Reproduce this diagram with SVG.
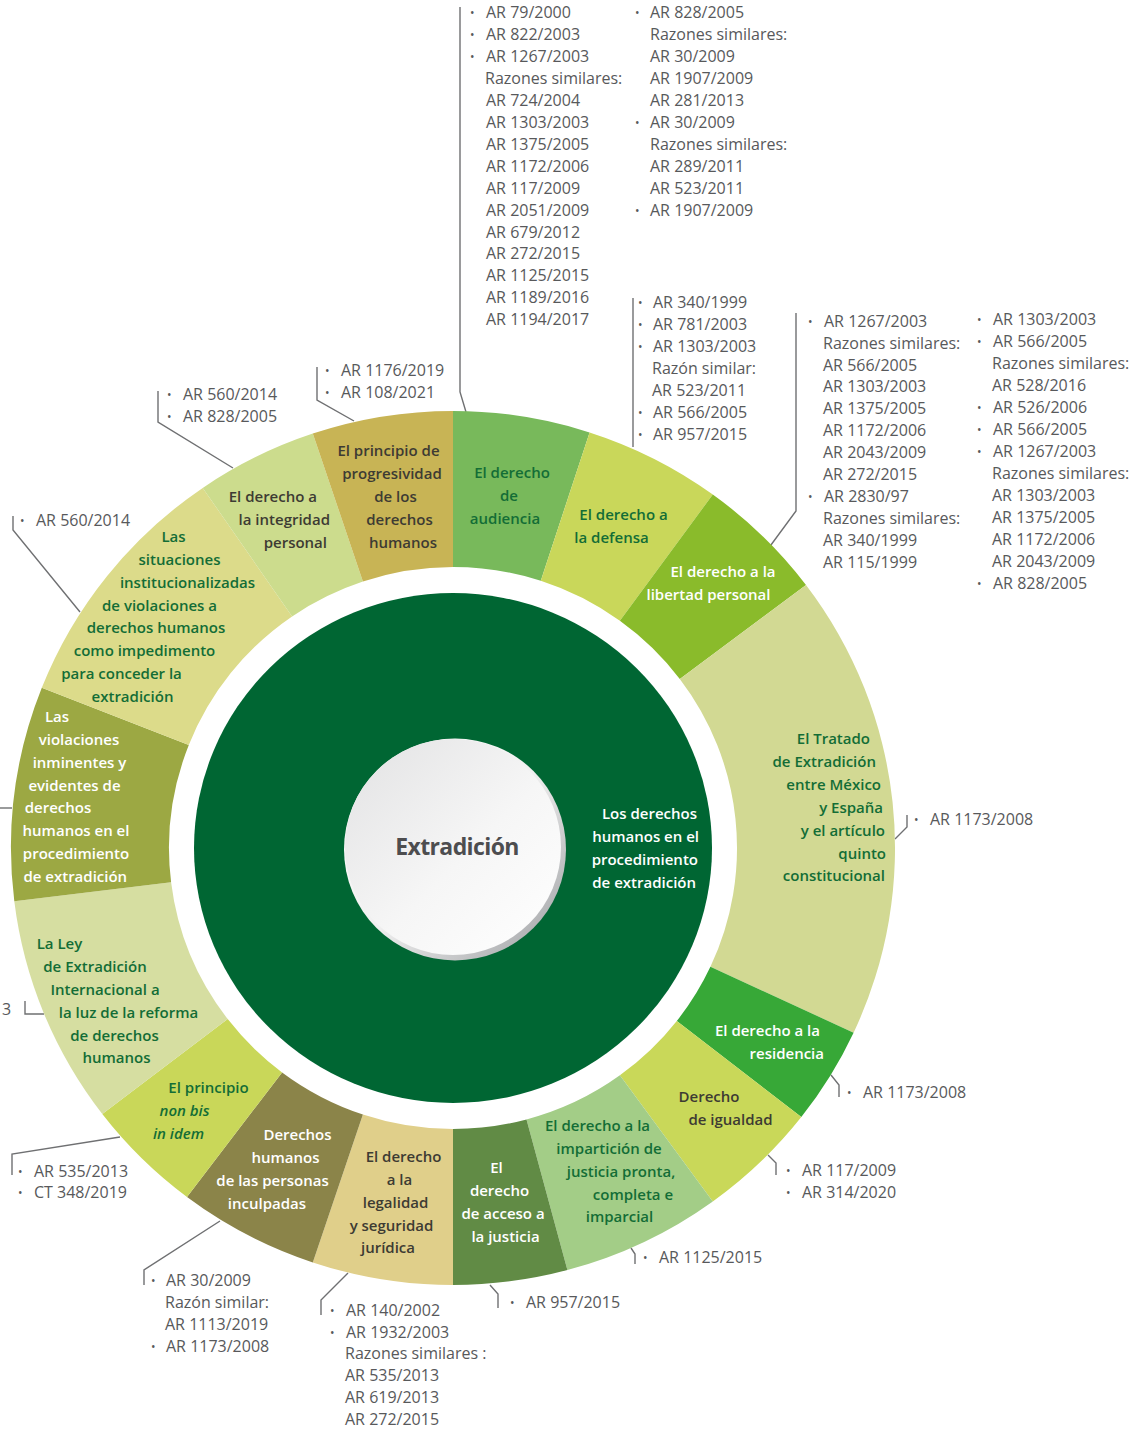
<svg xmlns="http://www.w3.org/2000/svg" width="1139" height="1429" viewBox="0 0 1139 1429">
<style>
.ref{font-family:"Open Sans","Liberation Sans",sans-serif;font-size:16px;fill:#58595b}
.bl{font-family:"Open Sans","Liberation Sans",sans-serif;font-size:12px;fill:#58595b}
.lb{font-family:"Open Sans","Liberation Sans",sans-serif;font-size:15px;font-weight:600}
.g{fill:#136d36}
.w{fill:#ffffff}
.k{fill:#3d3b33}
.m{text-anchor:middle}
.e{text-anchor:end}
.it{font-style:italic}
.ln{fill:none;stroke:#6f7072;stroke-width:1.4}
</style>
<defs>
<linearGradient id="wg" x1="0" y1="0" x2="1" y2="1">
<stop offset="0" stop-color="#e2e2e3"/>
<stop offset="0.55" stop-color="#f6f6f6"/>
<stop offset="1" stop-color="#ffffff"/>
</linearGradient>
<linearGradient id="rim" x1="0" y1="0" x2="1" y2="1">
<stop offset="0" stop-color="#ffffff"/>
<stop offset="0.5" stop-color="#f0f0f0"/>
<stop offset="1" stop-color="#9a9c9f"/>
</linearGradient>
</defs>
<rect width="1139" height="1429" fill="#ffffff"/>

<g id="connectors">
<polyline class="ln" points="460,7 460,392 466,412"/>
<polyline class="ln" points="633,298 633,447"/>
<polyline class="ln" points="796,313 796,511 768,549"/>
<polyline class="ln" points="907,815 907,827 895,839"/>
<polyline class="ln" points="839,1097 839,1085 831,1075"/>
<polyline class="ln" points="776,1175 776,1163 768,1155"/>
<polyline class="ln" points="635,1264 635,1254 631,1248"/>
<polyline class="ln" points="498,1308 498,1294 490,1285"/>
<polyline class="ln" points="321,1315 321,1300 348,1273"/>
<polyline class="ln" points="144,1285 144,1270 220,1221"/>
<polyline class="ln" points="12,1175 12,1154 120,1137"/>
<polyline class="ln" points="25,1001 25,1014 44,1014"/>
<polyline class="ln" points="0,808 12,808"/>
<polyline class="ln" points="13,516 13,530 80,612"/>
<polyline class="ln" points="158,391 158,422 233,468"/>
<polyline class="ln" points="317,367 317,400 354,421"/>
</g>

<g id="seg-audiencia">
<path d="M453,411 A442,437 0 0 1 589.6,432.4 L540.8,580.7 A284,281 0 0 0 453,567 Z" fill="#78b95b"/>
<text class="lb g m"><tspan x="512" y="478">El derecho</tspan><tspan x="509" y="501">de</tspan><tspan x="505" y="524">audiencia</tspan></text>
</g>
<g id="seg-defensa">
<path d="M589.6,432.4 A442,437 0 0 1 712.8,494.5 L619.9,620.7 A284,281 0 0 0 540.8,580.7 Z" fill="#c9d75a"/>
<text class="lb g m"><tspan x="623.5" y="520">El derecho a</tspan><tspan x="611.5" y="543">la defensa</tspan></text>
</g>
<g id="seg-libertad">
<path d="M712.8,494.5 A442,437 0 0 1 806,585 L679.8,678.9 A284,281 0 0 0 619.9,620.7 Z" fill="#8abb2b"/>
<text class="lb w m"><tspan x="723" y="577">El derecho a la</tspan><tspan x="708.5" y="600">libertad personal</tspan></text>
</g>
<g id="seg-tratado">
<path d="M806,585 A442,437 0 0 1 853.6,1032.7 L710.4,966.8 A284,281 0 0 0 679.8,678.9 Z" fill="#d2d993"/>
<text class="lb g e"><tspan x="870" y="744">El Tratado</tspan><tspan x="876" y="767">de Extradición</tspan><tspan x="881" y="790">entre México</tspan><tspan x="883" y="813">y España</tspan><tspan x="885" y="836">y el artículo</tspan><tspan x="886" y="859">quinto</tspan><tspan x="885" y="881">constitucional</tspan></text>
</g>
<g id="seg-residencia">
<path d="M853.6,1032.7 A442,437 0 0 1 801.3,1117.1 L676.8,1021 A284,281 0 0 0 710.4,966.8 Z" fill="#37a837"/>
<text class="lb w e"><tspan x="820" y="1036">El derecho a la</tspan><tspan x="824" y="1059">residencia</tspan></text>
</g>
<g id="seg-igualdad">
<path d="M801.3,1117.1 A442,437 0 0 1 712.8,1201.5 L619.9,1075.3 A284,281 0 0 0 676.8,1021 Z" fill="#c9d859"/>
<text class="lb k m"><tspan x="709" y="1102">Derecho</tspan><tspan x="730.5" y="1125">de igualdad</tspan></text>
</g>
<g id="seg-imparticion">
<path d="M712.8,1201.5 A442,437 0 0 1 567.4,1270.1 L526.5,1119.4 A284,281 0 0 0 619.9,1075.3 Z" fill="#a3cd87"/>
<text class="lb g m"><tspan x="597.5" y="1131">El derecho a la</tspan><tspan x="609" y="1154">impartición de</tspan><tspan x="621" y="1177">justicia pronta,</tspan><tspan x="633" y="1200">completa e</tspan><tspan x="619.5" y="1222">imparcial</tspan></text>
</g>
<g id="seg-acceso">
<path d="M567.4,1270.1 A442,437 0 0 1 453,1285 L453,1129 A284,281 0 0 0 526.5,1119.4 Z" fill="#618b45"/>
<text class="lb w m"><tspan x="496.5" y="1173">El</tspan><tspan x="499.5" y="1196">derecho</tspan><tspan x="503" y="1219">de acceso a</tspan><tspan x="505.5" y="1242">la justicia</tspan></text>
</g>
<g id="seg-legalidad">
<path d="M453,1285 A442,437 0 0 1 312.8,1262.4 L362.9,1114.5 A284,281 0 0 0 453,1129 Z" fill="#e0cf8a"/>
<text class="lb k m"><tspan x="403.5" y="1162">El derecho</tspan><tspan x="399.5" y="1185">a la</tspan><tspan x="395.5" y="1208">legalidad</tspan><tspan x="391.5" y="1231">y seguridad</tspan><tspan x="388" y="1253">jurídica</tspan></text>
</g>
<g id="seg-inculpadas">
<path d="M312.8,1262.4 A442,437 0 0 1 187,1197 L282.1,1072.4 A284,281 0 0 0 362.9,1114.5 Z" fill="#8b8449"/>
<text class="lb w m"><tspan x="297.5" y="1140">Derechos</tspan><tspan x="285.5" y="1163">humanos</tspan><tspan x="272.5" y="1186">de las personas</tspan><tspan x="267" y="1209">inculpadas</tspan></text>
</g>
<g id="seg-nonbis">
<path d="M187,1197 A442,437 0 0 1 102.3,1114 L227.7,1019.1 A284,281 0 0 0 282.1,1072.4 Z" fill="#c9d759"/>
<text class="lb g m"><tspan x="208.5" y="1093">El principio</tspan><tspan class="it" x="184.5" y="1116">non bis</tspan><tspan class="it" x="178.5" y="1139">in idem</tspan></text>
</g>
<g id="seg-ley">
<path d="M102.3,1114 A442,437 0 0 1 14.3,901.3 L171.1,882.3 A284,281 0 0 0 227.7,1019.1 Z" fill="#d6dea1"/>
<text class="lb g m"><tspan x="59.5" y="949">La Ley</tspan><tspan x="95" y="972">de Extradición</tspan><tspan x="105" y="995">Internacional a</tspan><tspan x="128.5" y="1018">la luz de la reforma</tspan><tspan x="114.5" y="1041">de derechos</tspan><tspan x="116.5" y="1063">humanos</tspan></text>
</g>
<g id="seg-violaciones">
<path d="M14.3,901.3 A442,437 0 0 1 41.8,687.8 L188.8,745 A284,281 0 0 0 171.1,882.3 Z" fill="#9ca843"/>
<text class="lb w m"><tspan x="57" y="722">Las</tspan><tspan x="79" y="745">violaciones</tspan><tspan x="79.5" y="768">inminentes y</tspan><tspan x="74.5" y="791">evidentes de</tspan><tspan x="58" y="813">derechos</tspan><tspan x="76" y="836">humanos en el</tspan><tspan x="76" y="859">procedimiento</tspan><tspan x="75.3" y="882">de extradición</tspan></text>
</g>
<g id="seg-situaciones">
<path d="M41.8,687.8 A442,437 0 0 1 202.7,487.9 L292.1,616.4 A284,281 0 0 0 188.8,745 Z" fill="#dcdb8a"/>
<text class="lb g m"><tspan x="173.5" y="542">Las</tspan><tspan x="179.5" y="565">situaciones</tspan><tspan x="187.5" y="588">institucionalizadas</tspan><tspan x="159.5" y="611">de violaciones a</tspan><tspan x="156" y="633">derechos humanos</tspan><tspan x="144.5" y="656">como impedimento</tspan><tspan x="121.5" y="679">para conceder la</tspan><tspan x="132.5" y="702">extradición</tspan></text>
</g>
<g id="seg-integridad">
<path d="M202.7,487.9 A442,437 0 0 1 312.8,433.6 L362.9,581.5 A284,281 0 0 0 292.1,616.4 Z" fill="#ccdc8d"/>
<text class="lb k e"><tspan x="317" y="502">El derecho a</tspan><tspan x="330" y="525">la integridad</tspan><tspan x="327" y="548">personal</tspan></text>
</g>
<g id="seg-progresividad">
<path d="M312.8,433.6 A442,437 0 0 1 453,411 L453,567 A284,281 0 0 0 362.9,581.5 Z" fill="#c8b455"/>
<text class="lb k m"><tspan x="388.5" y="456">El principio de</tspan><tspan x="392" y="479">progresividad</tspan><tspan x="395.5" y="502">de los</tspan><tspan x="399.5" y="525">derechos</tspan><tspan x="403" y="548">humanos</tspan></text>
</g>

<g id="node-center">
<ellipse cx="453" cy="848" rx="259" ry="255" fill="#006633"/>
<text class="lb w e"><tspan x="697" y="819">Los derechos</tspan><tspan x="699" y="842">humanos en el</tspan><tspan x="698" y="865">procedimiento</tspan><tspan x="696" y="888">de extradición</tspan></text>
</g>
<g id="node-extradicion">
<circle cx="455" cy="849.5" r="111" fill="url(#rim)"/>
<circle cx="453" cy="847" r="108" fill="url(#wg)"/>
<text x="457" y="855" text-anchor="middle" font-family="Open Sans, Liberation Sans, sans-serif" font-size="23" font-weight="700" letter-spacing="-0.6" fill="#4d4d4f">Extradición</text>
</g>

<g id="refs-audiencia">
<text class="bl" x="470" y="17">•</text><text class="bl" x="470" y="39">•</text><text class="bl" x="470" y="61">•</text>
<text class="ref"><tspan x="486" y="18">AR 79/2000</tspan><tspan x="486" y="40">AR 822/2003</tspan><tspan x="486" y="62">AR 1267/2003</tspan><tspan x="485" y="84">Razones similares:</tspan><tspan x="486" y="106">AR 724/2004</tspan><tspan x="486" y="128">AR 1303/2003</tspan><tspan x="486" y="150">AR 1375/2005</tspan><tspan x="486" y="172">AR 1172/2006</tspan><tspan x="486" y="194">AR 117/2009</tspan><tspan x="486" y="216">AR 2051/2009</tspan><tspan x="486" y="238">AR 679/2012</tspan><tspan x="486" y="259">AR 272/2015</tspan><tspan x="486" y="281">AR 1125/2015</tspan><tspan x="486" y="303">AR 1189/2016</tspan><tspan x="486" y="325">AR 1194/2017</tspan></text>
<text class="bl" x="635" y="17">•</text><text class="bl" x="635" y="127">•</text><text class="bl" x="635" y="215">•</text>
<text class="ref"><tspan x="650" y="18">AR 828/2005</tspan><tspan x="650" y="40">Razones similares:</tspan><tspan x="650" y="62">AR 30/2009</tspan><tspan x="650" y="84">AR 1907/2009</tspan><tspan x="650" y="106">AR 281/2013</tspan><tspan x="650" y="128">AR 30/2009</tspan><tspan x="650" y="150">Razones similares:</tspan><tspan x="650" y="172">AR 289/2011</tspan><tspan x="650" y="194">AR 523/2011</tspan><tspan x="650" y="216">AR 1907/2009</tspan></text>
</g>
<g id="refs-defensa">
<text class="bl" x="638" y="307">•</text><text class="bl" x="638" y="329">•</text><text class="bl" x="638" y="351">•</text><text class="bl" x="638" y="417">•</text><text class="bl" x="638" y="439">•</text>
<text class="ref"><tspan x="653" y="308">AR 340/1999</tspan><tspan x="653" y="330">AR 781/2003</tspan><tspan x="653" y="352">AR 1303/2003</tspan><tspan x="652" y="374">Razón similar:</tspan><tspan x="652" y="396">AR 523/2011</tspan><tspan x="653" y="418">AR 566/2005</tspan><tspan x="653" y="440">AR 957/2015</tspan></text>
</g>
<g id="refs-libertad">
<text class="bl" x="808" y="326">•</text><text class="bl" x="808" y="501">•</text>
<text class="ref"><tspan x="824" y="327">AR 1267/2003</tspan><tspan x="823" y="349">Razones similares:</tspan><tspan x="823" y="371">AR 566/2005</tspan><tspan x="823" y="392">AR 1303/2003</tspan><tspan x="823" y="414">AR 1375/2005</tspan><tspan x="823" y="436">AR 1172/2006</tspan><tspan x="823" y="458">AR 2043/2009</tspan><tspan x="823" y="480">AR 272/2015</tspan><tspan x="824" y="502">AR 2830/97</tspan><tspan x="823" y="524">Razones similares:</tspan><tspan x="823" y="546">AR 340/1999</tspan><tspan x="823" y="568">AR 115/1999</tspan></text>
<text class="bl" x="977" y="324">•</text><text class="bl" x="977" y="346">•</text><text class="bl" x="977" y="412">•</text><text class="bl" x="977" y="434">•</text><text class="bl" x="977" y="456">•</text><text class="bl" x="977" y="588">•</text>
<text class="ref"><tspan x="993" y="325">AR 1303/2003</tspan><tspan x="993" y="347">AR 566/2005</tspan><tspan x="992" y="369">Razones similares:</tspan><tspan x="992" y="391">AR 528/2016</tspan><tspan x="993" y="413">AR 526/2006</tspan><tspan x="993" y="435">AR 566/2005</tspan><tspan x="993" y="457">AR 1267/2003</tspan><tspan x="992" y="479">Razones similares:</tspan><tspan x="992" y="501">AR 1303/2003</tspan><tspan x="992" y="523">AR 1375/2005</tspan><tspan x="992" y="545">AR 1172/2006</tspan><tspan x="992" y="567">AR 2043/2009</tspan><tspan x="993" y="589">AR 828/2005</tspan></text>
</g>
<g id="refs-tratado">
<text class="bl" x="914" y="824">•</text>
<text class="ref" x="930" y="825">AR 1173/2008</text>
</g>
<g id="refs-residencia">
<text class="bl" x="847" y="1097">•</text>
<text class="ref" x="863" y="1098">AR 1173/2008</text>
</g>
<g id="refs-igualdad">
<text class="bl" x="786" y="1175">•</text><text class="bl" x="786" y="1197">•</text>
<text class="ref"><tspan x="802" y="1176">AR 117/2009</tspan><tspan x="802" y="1198">AR 314/2020</tspan></text>
</g>
<g id="refs-imparticion">
<text class="bl" x="643" y="1262">•</text>
<text class="ref" x="659" y="1263">AR 1125/2015</text>
</g>
<g id="refs-acceso">
<text class="bl" x="510" y="1307">•</text>
<text class="ref" x="526" y="1308">AR 957/2015</text>
</g>
<g id="refs-legalidad">
<text class="bl" x="330" y="1315">•</text><text class="bl" x="330" y="1337">•</text>
<text class="ref"><tspan x="346" y="1316">AR 140/2002</tspan><tspan x="346" y="1338">AR 1932/2003</tspan><tspan x="345" y="1359">Razones similares :</tspan><tspan x="345" y="1381">AR 535/2013</tspan><tspan x="345" y="1403">AR 619/2013</tspan><tspan x="345" y="1425">AR 272/2015</tspan></text>
</g>
<g id="refs-inculpadas">
<text class="bl" x="151" y="1285">•</text><text class="bl" x="151" y="1351">•</text>
<text class="ref"><tspan x="166" y="1286">AR 30/2009</tspan><tspan x="165" y="1308">Razón similar:</tspan><tspan x="165" y="1330">AR 1113/2019</tspan><tspan x="166" y="1352">AR 1173/2008</tspan></text>
</g>
<g id="refs-nonbis">
<text class="bl" x="18" y="1176">•</text><text class="bl" x="18" y="1197">•</text>
<text class="ref"><tspan x="34" y="1177">AR 535/2013</tspan><tspan x="34" y="1198">CT 348/2019</tspan></text>
</g>
<g id="refs-ley">
<text class="ref" x="2" y="1015">3</text>
</g>
<g id="refs-situaciones">
<text class="bl" x="20" y="525">•</text>
<text class="ref" x="36" y="526">AR 560/2014</text>
</g>
<g id="refs-integridad">
<text class="bl" x="167" y="399">•</text><text class="bl" x="167" y="421">•</text>
<text class="ref"><tspan x="183" y="400">AR 560/2014</tspan><tspan x="183" y="422">AR 828/2005</tspan></text>
</g>
<g id="refs-progresividad">
<text class="bl" x="325" y="375">•</text><text class="bl" x="325" y="397">•</text>
<text class="ref"><tspan x="341" y="376">AR 1176/2019</tspan><tspan x="341" y="398">AR 108/2021</tspan></text>
</g>
</svg>
